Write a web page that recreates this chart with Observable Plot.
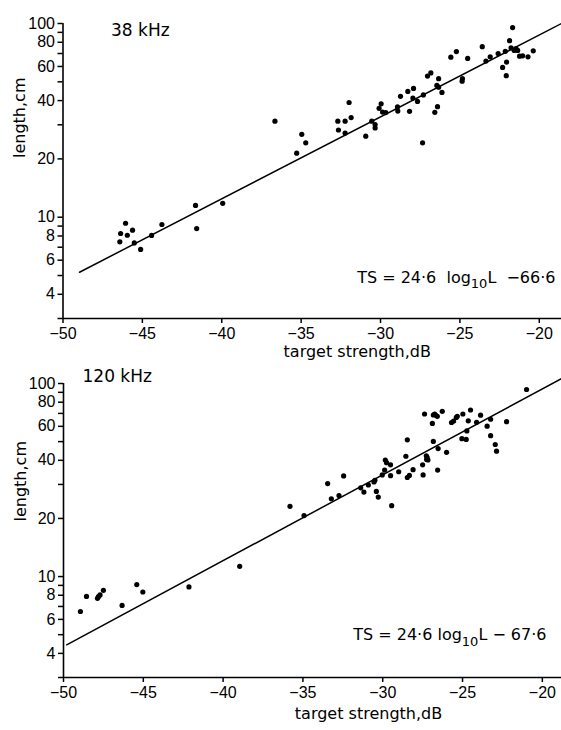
<!DOCTYPE html>
<html>
<head>
<meta charset="utf-8">
<script src="https://cdn.jsdelivr.net/npm/d3@7"></script>
<script src="https://cdn.jsdelivr.net/npm/@observablehq/plot@0.6"></script>
<style>
  html, body { margin: 0; padding: 0; background: #fff; }
  svg { display: block; }
</style>
</head>
<body>
<div id="chart"></div>
<script>
// ---- Panel A: 38 kHz ----
const topTS = [-46.42,-46.37,-46.06,-45.95,-45.62,-45.51,-45.11,-44.42,-43.77,-41.65,-41.58,-39.94,-36.65,
  -35.28,-34.96,-34.71,-32.69,-32.65,-32.23,-31.98,-31.85,-32.23,-30.93,-30.55,-30.34,-30.34,-30.09,-29.96,-29.87,-29.67,
  -28.93,-28.91,-28.74,-28.28,-28.17,-27.92,-27.96,-27.67,-27.35,-27.30,-27.04,-26.83,-26.34,-26.45,-26.34,-26.13,-26.41,-26.58,
  -25.57,-25.22,-24.84,-24.86,-24.51,-23.59,-23.36,-23.09,-22.59,-22.31,-22.06,-22.08,-22.14,
  -21.87,-21.68,-21.78,-21.58,-21.36,-21.24,-21.05,-20.71,-20.38,-21.47];
const topLen = [7.46,8.24,9.31,8.07,8.57,7.37,6.82,8.05,9.17,11.5,8.74,11.8,31.3,
  21.4,26.8,24.2,31.3,28.2,31.3,39.1,32.7,27.2,26.2,31.3,30.1,28.9,36.5,38.5,34.9,34.7,
  37.1,35.3,42.1,44.6,35.2,46.2,41.2,39.6,24.2,42.8,53.5,55.6,51.9,47.9,46.9,44.1,37.2,34.8,
  67.0,71.6,52.0,50.4,66.0,75.9,64.0,67.3,70.0,59.3,63.2,53.8,71.8,
  81.5,95.3,74.8,72.6,72.6,67.8,68.1,67.3,72.3,74.1];
const topLineTS = [-48.96, -18.6];
const topLineLen = [5.2, 100];

// ---- Panel B: 120 kHz ----
const botTS = [-48.94,-48.56,-47.87,-47.81,-47.71,-47.50,-46.33,-45.41,-45.03,-42.14,-38.96,
  -35.81,-34.93,-33.45,-33.22,-32.74,-32.45,-31.38,-31.18,-30.90,-30.55,
  -30.49,-30.40,-30.28,-30.03,-29.88,-29.84,-29.76,-29.51,-29.51,-29.44,
  -29.00,-28.55,-28.46,-28.46,-28.33,-28.10,-27.50,-27.47,-27.38,-26.89,
  -26.83,-26.75,-26.69,-26.58,-26.27,-26.83,-27.27,-27.22,-27.25,-27.17,
  -26.56,-26.53,-26.00,-25.69,-25.56,-25.39,-25.33,-24.98,-24.50,-24.64,
  -24.73,-25.04,-24.77,-24.12,-23.87,-23.46,-23.24,-23.24,-22.95,-22.87,
  -22.24,-20.99];
const botLen = [6.59,7.89,7.71,7.87,8.03,8.49,7.09,9.09,8.32,8.84,11.3,
  23.1,20.7,30.3,25.3,26.3,33.2,28.8,27.4,29.8,30.9,
  31.5,27.6,25.8,33.6,35.6,40.1,38.9,37.9,33.3,23.3,
  34.9,42.0,51.1,32.6,33.4,35.8,37.9,33.6,69.5,62.1,
  68.7,69.5,68.7,67.6,71.8,50.1,42.2,41.4,40.4,40.2,
  35.6,46.0,44.0,62.8,63.9,66.7,67.6,69.5,72.9,64.1,
  56.8,51.8,51.3,63.0,68.5,60.1,65.3,53.7,48.3,44.6,
  63.4,93.1];
const botLineTS = [-49.8, -18.8];
const botLineLen = [4.43, 106];

// ---- Axis ticks & labels ----
const xTicks = [-50, -45, -40, -35, -30, -25, -20];
const yTicks = [4, 6, 8, 10, 20, 40, 60, 80, 100];
const yMinor = [3, 5, 7, 9, 30, 50, 70, 90];
const xLabel = "target strength,dB";
const yLabel = "length,cm";

const labelFont = "DejaVu Sans";

function panel(o) {
  const pts = o.ts.map((t, i) => ({ts: t, len: o.len[i]}));
  const ln = o.lineTs.map((t, i) => ({ts: t, len: o.lineLen[i]}));
  const svg = Plot.plot({
    width: 561,
    height: o.height,
    marginTop: o.marginTop,
    marginBottom: o.marginBottom,
    marginLeft: o.marginLeft,
    marginRight: 0,
    x: {domain: o.xDomain},
    y: {type: "log", domain: [3, 100]},
    style: {fontFamily: "Liberation Sans", fontSize: "16px", color: "black", background: "white", overflow: "visible"},
    marks: [
      Plot.axisX({ticks: xTicks, tickSize: 5, tickPadding: 4, strokeWidth: 1.5, label: null}),
      Plot.axisY({ticks: yTicks.concat(yMinor), tickSize: 5, strokeWidth: 1.5, label: null, tickFormat: () => ""}),
      Plot.text(yTicks, {x: () => o.xDomain[0], y: d => d, text: d => String(d), dx: -8, textAnchor: "end", fontSize: 16}),
      Plot.ruleX([o.xDomain[0]], {y1: 3, y2: 100, strokeWidth: 1.6}),
      Plot.ruleY([3], {strokeWidth: 1.6}),
      Plot.line(ln, {x: "ts", y: "len", strokeWidth: 1.5, stroke: "black"}),
      Plot.dot(pts, {x: "ts", y: "len", r: 2.6, fill: "black", stroke: "none"}),
      Plot.text([o.freq], {frameAnchor: "top-left", textAnchor: "start", dx: o.freqDx, dy: o.freqDy, fontSize: 17, fontFamily: labelFont}),
      Plot.text([o.eq], {frameAnchor: "bottom-right", textAnchor: "end", dx: o.eqDx, dy: o.eqDy, fontSize: 16, fontFamily: labelFont}),
      Plot.text([xLabel], {frameAnchor: "bottom", dx: o.xlabDx, dy: o.xlabDy, fontSize: 16, fontFamily: labelFont}),
      Plot.text([yLabel], {frameAnchor: "left", rotate: -90, dx: o.ylabDx, dy: o.ylabDy, fontSize: 16, fontFamily: labelFont})
    ]
  });
  // build subscript in the equation
  d3.select(svg).selectAll("text").each(function() {
    const t = this.textContent;
    if (t === o.eq) {
      const [pre, post] = t.split("log10");
      const s = d3.select(this).attr("style", "white-space:pre").text(null);
      s.append("tspan").text(pre + "log");
      s.append("tspan").attr("dy", o.subDy).attr("font-size", 13).text("10");
      s.append("tspan").attr("dy", -o.subDy).text(post);
    }
  });
  return svg;
}

const chart = document.getElementById("chart");
chart.appendChild(panel({
  ts: topTS, len: topLen, lineTs: topLineTS, lineLen: topLineLen,
  height: 365, marginTop: 23, marginBottom: 47, marginLeft: 62.5,
  xDomain: [-50, -18.6],
  freq: "38 kHz", freqDx: 48, freqDy: 0,
  eq: "TS = 24·6  log10L  −66·6", eqDx: -6, eqDy: -36, subDy: 5,
  xlabDx: 45, xlabDy: 38, ylabDx: -43, ylabDy: -13
}));
chart.appendChild(panel({
  ts: botTS, len: botLen, lineTs: botLineTS, lineLen: botLineLen,
  height: 365, marginTop: 18, marginBottom: 53, marginLeft: 63,
  xDomain: [-50, -18.8],
  freq: "120 kHz", freqDx: 19, freqDy: -14,
  eq: "TS = 24·6 log10L − 67·6", eqDx: -15, eqDy: -38, subDy: 6,
  xlabDx: 56, xlabDy: 41, ylabDx: -43, ylabDy: -9
}));
</script>
</body>
</html>
